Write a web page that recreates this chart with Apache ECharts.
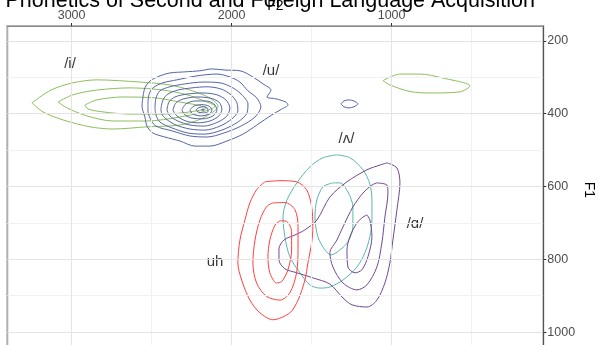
<!DOCTYPE html>
<html>
<head>
<meta charset="utf-8">
<script src="https://cdn.jsdelivr.net/npm/echarts@6/dist/echarts.min.js"></script>
<style>
  html, body { margin: 0; padding: 0; background: #ffffff; }
  #chart { width: 599px; height: 345px; }
</style>
</head>
<body>
<div id="chart"></div>
<script>
// Axis ticks (Hz)
const f2Ticks = [1000, 2000, 3000];
const f2Minor = [500, 1500, 2500];
const f1Ticks = [200, 400, 600, 800, 1000];
const f1Minor = [300, 500, 700, 900];

// Vowel labels and where they sit in the F2/F1 plane
const vowelNames = ['/i/', '/u/', '/\u028C/', '/\u0251/', 'uh'];
const vowelF2 = [3010, 1754, 1282, 854, 2104];
const vowelF1 = [263, 282, 469, 703, 807];

// Density contour rings, each a list of [F2, F1] points (Hz)
const iContours = [
  [[3248,370],[3129,335],[2992,315],[2842,307],[2573,313],[2385,321],[2260,335],[2135,357],[2085,379],[2179,412],[2323,431],[2529,436],[2742,442],[2885,436],[3054,417],[3179,395]],
  [[3085,368],[2992,348],[2842,335],[2635,329],[2429,335],[2279,348],[2154,368],[2104,379],[2179,395],[2323,409],[2529,420],[2742,420],[2904,406],[3029,384]],
  [[2917,376],[2842,362],[2679,354],[2467,357],[2323,368],[2217,376],[2154,384],[2260,395],[2429,401],[2635,401],[2804,395],[2898,387]],
  [[1054,309],[948,291],[823,291],[679,302],[510,324],[573,340],[760,343],[885,339],[1010,321]]
];

const uContours = [
  [[2554,354],[2542,329],[2510,310],[2448,296],[2386,288],[2292,285],[2198,282],[2123,277],[2042,280],[1948,282],[1867,299],[1804,318],[1754,335],[1779,354],[1723,359],[1661,368],[1648,376],[1686,387],[1748,403],[1842,431],[1929,456],[2029,475],[2136,489],[2229,489],[2323,475],[2417,464],[2492,453],[2529,434],[2542,409],[2560,379]],
  [[2523,373],[2517,348],[2492,329],[2429,315],[2342,307],[2217,296],[2092,291],[2011,299],[1948,313],[1898,337],[1842,357],[1817,381],[1854,409],[1942,434],[2048,453],[2154,464],[2261,461],[2373,447],[2473,434],[2510,412],[2523,390]],
  [[2479,384],[2473,357],[2448,337],[2386,326],[2292,318],[2179,313],[2073,315],[1992,329],[1936,348],[1898,373],[1904,398],[1961,423],[2061,445],[2167,456],[2273,453],[2373,439],[2448,423],[2473,403]],
  [[2442,387],[2429,362],[2398,346],[2336,335],[2248,329],[2154,326],[2067,332],[2004,348],[1967,370],[1961,392],[1998,414],[2073,434],[2167,445],[2261,442],[2348,431],[2411,414],[2436,401]],
  [[2404,390],[2392,368],[2354,354],[2279,346],[2179,343],[2092,348],[2036,362],[2011,384],[2029,406],[2086,423],[2173,434],[2261,431],[2336,420],[2386,406]],
  [[2367,390],[2348,370],[2298,359],[2217,354],[2136,357],[2079,368],[2061,387],[2079,406],[2136,420],[2211,425],[2286,420],[2342,406]],
  [[2311,390],[2286,373],[2229,365],[2161,365],[2111,373],[2092,390],[2117,406],[2179,414],[2248,412],[2292,403]],
  [[2261,390],[2236,379],[2186,375],[2142,379],[2123,390],[2142,401],[2192,406],[2242,401]],
  [[2223,390],[2204,383],[2173,381],[2148,387],[2148,394],[2173,398],[2204,396]],
  [[2189,390],[2179,387],[2170,390],[2179,392]],
  [[1317,373],[1298,365],[1267,362],[1236,365],[1211,373],[1236,381],[1267,384],[1298,381]]
];

const wedgeContours = [
  [[1342,513],[1261,521],[1179,554],[1136,593],[1123,637],[1123,692],[1136,738],[1167,782],[1217,821],[1304,857],[1386,876],[1448,879],[1511,870],[1573,837],[1636,793],[1667,738],[1679,684],[1654,637],[1592,590],[1511,546],[1429,521]],
  [[1367,590],[1323,590],[1273,615],[1242,656],[1242,711],[1273,752],[1323,774],[1379,788],[1417,774],[1461,738],[1479,684],[1467,637],[1429,601]]
];

const alphaContours = [
  [[1029,535],[967,549],[948,590],[967,664],[992,747],[1011,810],[1042,865],[1092,912],[1154,931],[1248,925],[1304,906],[1386,868],[1492,851],[1592,837],[1667,826],[1704,802],[1704,771],[1673,747],[1604,733],[1542,719],[1467,692],[1386,629],[1279,587],[1154,554],[1073,541]],
  [[1092,590],[1029,596],[1023,618],[1042,684],[1061,755],[1092,821],[1154,870],[1217,884],[1304,865],[1367,821],[1386,782],[1342,747],[1304,711],[1242,656],[1179,618],[1123,596]],
  [[1154,678],[1136,692],[1123,738],[1148,793],[1186,829],[1229,837],[1273,821],[1279,774],[1261,738],[1217,700],[1179,684]]
];

const uhContours = [
  [[1792,587],[1698,584],[1594,587],[1531,609],[1500,655],[1492,710],[1500,755],[1523,810],[1542,857],[1585,912],[1636,947],[1742,966],[1823,947],[1886,912],[1937,857],[1961,810],[1948,747],[1917,692],[1886,645],[1844,609]],
  [[1742,645],[1667,644],[1604,664],[1585,710],[1585,774],[1594,837],[1636,892],[1698,912],[1781,902],[1844,865],[1867,810],[1854,747],[1823,692],[1781,655]],
  [[1698,694],[1656,696],[1625,724],[1625,774],[1648,829],[1687,861],[1719,865],[1761,837],[1773,793],[1761,747],[1729,706]]
];

const contourGroups = [
  { rings: iContours, color: '#8dbf5a' },
  { rings: uContours, color: '#5465a6' },
  { rings: wedgeContours, color: '#5bb6ae' },
  { rings: alphaContours, color: '#6f4a93' },
  { rings: uhContours, color: '#ff3f3f' }
];

const FONT = '"Liberation Sans", Arial, "DejaVu Sans", sans-serif';

const series = [];

// background grid lines
const gridLine = (axisKey, values, color) => values.map(v => ({
  [axisKey]: v,
  lineStyle: { color: color, width: 1, type: 'solid' }
}));
series.push({
  type: 'line',
  data: [],
  silent: true,
  z: 0,
  markLine: {
    silent: true,
    symbol: ['none', 'none'],
    label: { show: false },
    animation: false,
    data: [].concat(
      gridLine('xAxis', f2Minor, '#f1f1f1'),
      gridLine('yAxis', f1Minor, '#f1f1f1'),
      gridLine('xAxis', f2Ticks, '#e4e4e4'),
      gridLine('yAxis', f1Ticks, '#e4e4e4')
    )
  }
});

// contour rings, closed back onto their first point
contourGroups.forEach(g => {
  g.rings.forEach(ring => {
    series.push({
      type: 'line',
      data: ring.concat([ring[0]]),
      showSymbol: false,
      symbol: 'none',
      smooth: 0.3,
      silent: true,
      z: 2,
      lineStyle: { color: g.color, width: 1 }
    });
  });
});

// vowel labels
series.push({
  type: 'scatter',
  symbolSize: 0,
  silent: true,
  z: 3,
  data: vowelNames.map((n, i) => ({ name: n, value: [vowelF2[i], vowelF1[i]] })),
  label: {
    show: true,
    position: 'inside',
    formatter: p => p.name,
    fontFamily: FONT,
    fontSize: 15,
    color: '#000'
  }
});

const plain = v => String(v);

const chart = echarts.init(document.getElementById('chart'), null, { renderer: 'canvas' });
chart.setOption({
  animation: false,
  backgroundColor: '#ffffff',
  grid: {
    left: 7.3, top: 26, width: 536, height: 327.6,
    show: true, borderColor: '#b0b0b0', borderWidth: 2,
    containLabel: false, outerBoundsMode: 'none'
  },
  xAxis: {
    type: 'value',
    position: 'top',
    inverse: true,
    min: 52, max: 3402,
    z: 5,
    name: 'F2',
    nameLocation: 'middle',
    nameGap: 13,
    nameMoveOverlap: false,
    nameTextStyle: { fontFamily: FONT, fontSize: 14, color: '#000' },
    axisLine: { show: true, onZero: false, lineStyle: { color: '#8a8a8a', width: 1 } },
    axisTick: { show: true, customValues: f2Ticks, length: 3, lineStyle: { color: '#333' } },
    axisLabel: { customValues: f2Ticks, formatter: plain, fontFamily: FONT, fontSize: 12.5, color: '#4d4d4d', margin: 4 },
    splitLine: { show: false }
  },
  yAxis: {
    type: 'value',
    position: 'right',
    inverse: true,
    min: 159, max: 1059,
    z: 5,
    name: 'F1',
    nameLocation: 'middle',
    nameGap: 39,
    nameRotate: -90,
    nameMoveOverlap: false,
    nameTextStyle: { fontFamily: FONT, fontSize: 14, color: '#000' },
    axisLine: { show: true, onZero: false, lineStyle: { color: '#555', width: 1 } },
    axisTick: { show: true, customValues: f1Ticks, length: 3, lineStyle: { color: '#333' } },
    axisLabel: { customValues: f1Ticks, formatter: plain, fontFamily: FONT, fontSize: 12.5, color: '#4d4d4d', margin: 4 },
    splitLine: { show: false }
  },
  graphic: [{
    type: 'text',
    x: 535,
    y: 1.0,
    z: 0,
    style: {
      text: 'Experimental Phonetics of Second and Foreign Language Acquisition',
      font: '21.5px ' + FONT,
      fill: '#000',
      align: 'right',
      verticalAlign: 'middle'
    }
  }],
  series: series
});
</script>
</body>
</html>
